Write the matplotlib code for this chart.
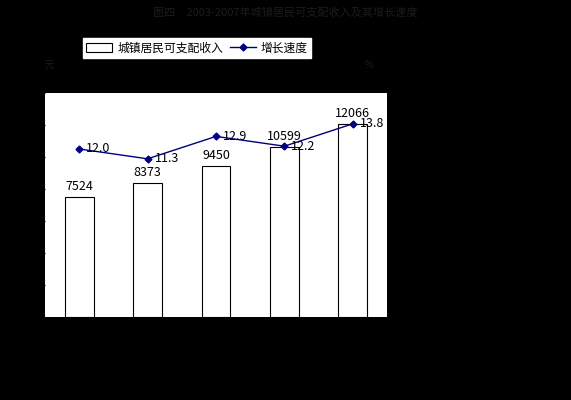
import matplotlib
matplotlib.use('Agg')
import matplotlib.pyplot as plt

plt.rcParams['font.family'] = ['Noto Sans CJK SC', 'DejaVu Sans']

years = ['2003年', '2004年', '2005年', '2006年', '2007年']
income = [7524, 8373, 9450, 10599, 12066]
growth = [12.0, 11.3, 12.9, 12.2, 13.8]
dark = '#1c1c1c'

fig = plt.figure(figsize=(5.71, 4.0), dpi=100, facecolor='black')
ax = fig.add_axes([45/571, 1-317/400, 342/571, 224/400])
ax.set_facecolor('white')
x = range(len(years))
bars = ax.bar(x, income, width=0.42, color='white', edgecolor='black', linewidth=0.8, label='城镇居民可支配收入')
ax.set_xlim(-0.5, 4.5)
ax.set_ylim(0, 14000)
ax.set_yticks(range(0, 14001, 2000))
ax.set_yticklabels([str(v) for v in range(0, 14001, 2000)], color=dark, fontsize=7)
ax.set_xticks(list(x))
ax.set_xticklabels(years, color=dark, fontsize=7)
ax.tick_params(colors='black', length=3)
for s in ax.spines.values():
    s.set_visible(False)
for i, v in enumerate(income):
    ax.text(i, v + 250, str(v), ha='center', va='bottom', fontsize=9, color='black')

ax2 = ax.twinx()
ln, = ax2.plot(x, growth, color='#000080', marker='D', markersize=3.5, linewidth=1, label='增长速度')
ax2.set_ylim(0, 16)
ax2.set_yticks(range(0, 17, 2))
ax2.set_yticklabels([f'{v:.2f}' for v in range(0, 17, 2)], color=dark, fontsize=7)
ax2.tick_params(colors='black', length=3)
for s in ax2.spines.values():
    s.set_visible(False)
for i, v in enumerate(growth):
    ax2.text(i + 0.1, v, f'{v:.1f}', ha='left', va='center', fontsize=9, color='black')

fig.text(45/571, 1-68/400, '元', color=dark, fontsize=7)
fig.text(365/571, 1-68/400, '%', color=dark, fontsize=7)
fig.text(0.5, 1-7/400, '图四　2003-2007年城镇居民可支配收入及其增长速度', ha='center', va='top', color=dark, fontsize=8)
leg = fig.legend([bars, ln], ['城镇居民可支配收入', '增长速度'], loc='center', bbox_to_anchor=(197/571, 1-48/400),
                 ncol=2, fontsize=8.5, frameon=True, fancybox=False, edgecolor='white', facecolor='white',
                 borderpad=0.3, handlelength=2.2, columnspacing=0.6, handletextpad=0.4)
leg.get_frame().set_alpha(1)
fig.savefig('out.png', dpi=100, facecolor='black')
